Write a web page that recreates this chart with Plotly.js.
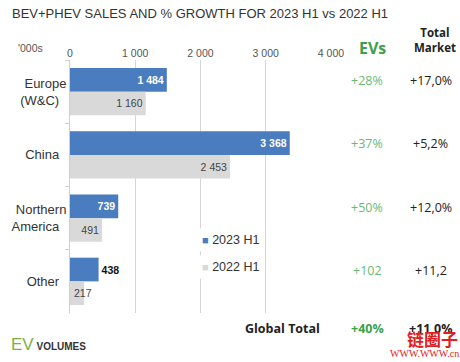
<!DOCTYPE html>
<html><head><meta charset="utf-8">
<script src="https://cdn.plot.ly/plotly-3.0.1.min.js"></script>
<style>html,body{margin:0;padding:0;background:#fff}#chart{width:460px;height:362px}</style>
</head><body><div id="chart"></div>
<script>
const categories = ["Europe<br>(W&C)", "China", "Northern<br>America", "Other"];
const seriesNames = ["2023 H1", "2022 H1"];
const sales2023 = [1484, 3368, 739, 438];
const sales2022 = [1160, 2453, 491, 217];
const evGrowth = ["+28%", "+37%", "+50%", "+102"];
const totalGrowth = ["+17,0%", "+5,2%", "+12,0%", "+11,2"];
const globalEv = "+40%";
const globalTotal = "+11,0%";
const tickVals = [0, 1000, 2000, 3000, 4000];

const blue = "#4a7cc0", grey = "#d9d9d9";
const ff = "Liberation Sans, Arial, sans-serif";
const of = "Open Sans, sans-serif";

// 2022 labels too wide for their bar are placed from the axis instead
const fits2022 = sales2022.map(v => v >= 300);

const traces = [
  {type: "bar", orientation: "h", name: seriesNames[0], y: categories, x: sales2023,
   marker: {color: blue}, showlegend: false,
   texttemplate: "<b>%{x:,}</b>", textposition: ["inside","inside","inside","outside"],
   insidetextanchor: "end", constraintext: "none", textangle: 0, cliponaxis: false,
   insidetextfont: {color: "#fff", size: 10.5, family: ff},
   outsidetextfont: {color: "#111", size: 10.5, family: ff},
   hoverinfo: "skip"},
  {type: "bar", orientation: "h", name: seriesNames[1], y: categories, x: sales2022,
   marker: {color: grey}, showlegend: false,
   texttemplate: "%{x:,}", textposition: fits2022.map(f => f ? "inside" : "none"),
   insidetextanchor: "end", constraintext: "none", textangle: 0, cliponaxis: false,
   insidetextfont: {color: "#444", size: 10.5, family: ff},
   hoverinfo: "skip"}
];

const ann = [];
sales2022.forEach((v, i) => {
  if (!fits2022[i]) ann.push({xref: "x", yref: "y", x: 0, y: i + 0.1875, xanchor: "left", xshift: 2,
    text: String(v), showarrow: false, font: {family: ff, size: 10.5, color: "#444"}});
});
ann.push({xref: "paper", yref: "paper", x: -0.15, y: 1.048, text: "'000s", showarrow: false,
  xanchor: "center", yanchor: "middle", font: {family: ff, size: 10.5, color: "#555"}});
ann.push({xref: "paper", yref: "paper", x: 1.16, y: 1.048, text: "<b>EVs</b>", showarrow: false,
  xanchor: "center", yanchor: "middle", font: {family: of, size: 16, color: "#3f9f4a"}});
ann.push({xref: "paper", yref: "paper", x: 1.4, y: 1.078, text: "<b>Total<br>Market</b>", showarrow: false,
  xanchor: "center", yanchor: "middle", font: {family: of, size: 11.5, color: "#222"}});
for (let i = 0; i < categories.length; i++) {
  ann.push({xref: "paper", yref: "y", x: 1.138, y: categories[i], yshift: 11, text: evGrowth[i], showarrow: false,
    xanchor: "center", font: {family: of, size: 12.5, color: "#6cb872"}});
  ann.push({xref: "paper", yref: "y", x: 1.383, y: categories[i], yshift: 11, text: totalGrowth[i], showarrow: false,
    xanchor: "center", font: {family: of, size: 12.5, color: "#222"}});
}
// legend drawn as text with colour squares
const legColors = [blue, grey];
const legY = [0.29, 0.183];
for (let i = 0; i < seriesNames.length; i++) {
  ann.push({xref: "paper", yref: "paper", x: 0.485, y: legY[i], showarrow: false,
    xanchor: "left", yanchor: "middle", bgcolor: "#fff", borderpad: 4,
    text: "<span style='color:" + legColors[i] + ";font-size:11px'>■</span> " + seriesNames[i],
    font: {family: ff, size: 12.5, color: "#333"}});
}
ann.push({xref: "paper", yref: "paper", x: 0.815, y: -0.06, text: "<b>Global Total</b>", showarrow: false,
  xanchor: "center", yanchor: "middle", font: {family: of, size: 12.5, color: "#222"}});
ann.push({xref: "paper", yref: "paper", x: 1.138, y: -0.06, text: "<b>" + globalEv + "</b>", showarrow: false,
  xanchor: "center", yanchor: "middle", font: {family: of, size: 12.5, color: "#3f9f4a"}});
ann.push({xref: "paper", yref: "paper", x: 1.383, y: -0.06, text: "<b>" + globalTotal + "</b>", showarrow: false,
  xanchor: "center", yanchor: "middle", font: {family: of, size: 12.5, color: "#222"}});
ann.push({xref: "paper", yref: "paper", x: -0.235, y: -0.125, text: "<span style='color:#7fb03f;font-size:17px'>EV</span><span style='font-size:10px'><b> VOLUMES</b></span>", showarrow: false,
  xanchor: "left", yanchor: "middle", font: {family: ff, size: 12, color: "#333"}});
ann.push({xref: "paper", yref: "paper", x: 1.39, y: -0.1, text: "<b>链圈子</b>", showarrow: false,
  xanchor: "center", yanchor: "middle", font: {family: "Noto Sans CJK SC", size: 17, color: "#e02020"}});
ann.push({xref: "paper", yref: "paper", x: 1.36, y: -0.16, text: "WWW.WWW.cn", showarrow: false,
  xanchor: "center", yanchor: "middle", font: {family: "Liberation Serif, serif", size: 10, color: "#e02020"}});

const layout = {
  width: 460, height: 362,
  margin: {l: 70, r: 129, t: 60, b: 49},
  paper_bgcolor: "#fff", plot_bgcolor: "#fff",
  separators: ". ",
  title: {text: "BEV+PHEV SALES AND % GROWTH FOR 2023 H1 vs 2022 H1", x: 12/460, xanchor: "left",
    y: 1 - 13/362, yanchor: "middle", font: {family: ff, size: 13, color: "#333"}},
  barmode: "group", bargap: 0.25, bargroupgap: 0,
  showlegend: false,
  xaxis: {side: "top", range: [0, 4000], tickvals: tickVals, tickformat: ",",
    showgrid: true, gridcolor: "#d6d6d6", gridwidth: 1, zeroline: false, showline: false,
    ticks: "", tickfont: {family: ff, size: 10.5, color: "#555"}, fixedrange: true},
  yaxis: {autorange: "reversed", showline: true, linecolor: "#cfcfcf", linewidth: 1,
    ticks: "outside", tickson: "boundaries", ticklen: 4, tickcolor: "#cfcfcf",
    tickfont: {family: ff, size: 13, color: "#333"}, ticksuffix: "  ", fixedrange: true},
  annotations: ann
};
Plotly.newPlot("chart", traces, layout, {displayModeBar: false, staticPlot: true});
</script></body></html>
